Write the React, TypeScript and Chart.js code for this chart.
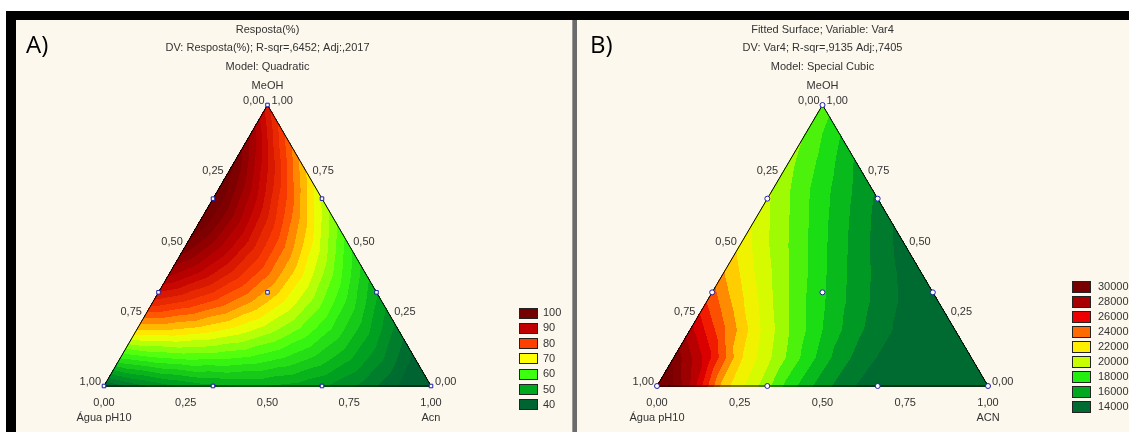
import React, { useEffect, useRef } from "react";
import { Chart, registerables } from "chart.js";

Chart.register(...registerables);

// ---------- data ----------
const tickValues = [0, 0.25, 0.5, 0.75, 1];
const tickLabels = ["0,00", "0,25", "0,50", "0,75", "1,00"];

// design points (fractions of MeOH and Acn; Água = remainder)
const designMeOH = [0, 1, 0, 0.3333, 0.6667, 0.6667, 0.3333, 0, 0, 0.3333];
const designAcn = [0, 0, 1, 0, 0, 0.3333, 0.6667, 0.3333, 0.6667, 0.3333];

const titleLinesA = ["Resposta(%)", "DV: Resposta(%); R-sqr=,6452; Adj:,2017", "Model: Quadratic"];
const titleLinesB = ["Fitted Surface; Variable: Var4", "DV: Var4; R-sqr=,9135 Adj:,7405", "Model: Special Cubic"];
const axisNamesA = ["MeOH", "Água pH10", "Acn"];
const axisNamesB = ["MeOH", "Água pH10", "ACN"];

// legend labels are the lower bounds of each colour class
const legendValuesA = [100, 90, 80, 70, 60, 50, 40];
const legendColorsA = ["#740000", "#c00000", "#ff4000", "#ffff00", "#3cff10", "#00a81e", "#006432"];
const legendValuesB = [30000, 28000, 26000, 24000, 22000, 20000, 18000, 16000, 14000];
const legendColorsB = ["#780000", "#a80000", "#ec0000", "#ff6a00", "#ffee00", "#c8ff00", "#22ee10", "#00a820", "#006b30"];

// response read on a ternary grid: row k -> MeOH = 1 - k/10, entry j -> Acn = j/10
const responseGridA = [
  [91.0],
  [99.6, 85.2],
  [105.1, 92.9, 79.5],
  [107.8, 97.6, 86.3, 74.0],
  [107.7, 99.4, 90.2, 79.9, 68.7],
  [104.5, 98.3, 91.1, 82.9, 73.7, 63.5],
  [98.4, 94.3, 89.1, 83.0, 75.8, 67.6, 58.5],
  [89.4, 87.3, 84.2, 80.1, 75.0, 68.9, 61.7, 53.6],
  [77.6, 77.5, 76.4, 74.3, 71.2, 67.2, 62.1, 56.0, 48.9],
  [62.7, 64.7, 65.7, 65.6, 64.6, 62.5, 59.5, 55.5, 50.4, 44.4],
  [45, 49, 52, 54, 55, 55, 54, 52, 49, 45, 40],
];
const responseGridB = [
  [19600],
  [19900, 18100],
  [20300, 18700, 16900],
  [20900, 19200, 17600, 16100],
  [21700, 20000, 18300, 16700, 15200],
  [22700, 20800, 19100, 17400, 15900, 14500],
  [24100, 21900, 20000, 18200, 16600, 15300, 14100],
  [26000, 23300, 21000, 19000, 17300, 15900, 14750, 13900],
  [28400, 25200, 22300, 20000, 18000, 16300, 15100, 14300, 13850],
  [30800, 27600, 23200, 20900, 18600, 16500, 15100, 14300, 13900, 13900],
  [33000, 29000, 23500, 21200, 18500, 16400, 15000, 14200, 13800, 13800, 14200],
];

// ---------- helpers ----------
function hexToRgb(h: string): number[] {
  const s = h.replace("#", "");
  return [parseInt(s.slice(0, 2), 16), parseInt(s.slice(2, 4), 16), parseInt(s.slice(4, 6), 16)];
}

function interpGrid(grid: number[][], a: number, c: number): number {
  const n = grid.length - 1;
  let C = Math.max(0, Math.min(n, c * n));
  let A = Math.max(0, Math.min(n - C, a * n));
  let iA = Math.floor(A);
  let iC = Math.floor(C);
  let fA = A - iA;
  let fC = C - iC;
  if (iA + iC >= n) {
    if (iA > 0) { iA -= 1; fA += 1; } else { iC -= 1; fC += 1; }
  }
  const node = (x: number, y: number) => {
    const row = grid[Math.min(n, x + y)];
    return row[Math.min(row.length - 1, y)];
  };
  const v10 = node(iA + 1, iC);
  const v01 = node(iA, iC + 1);
  if (fA + fC <= 1 || iA + iC + 2 > n) {
    const v00 = node(iA, iC);
    return v00 * (1 - fA - fC) + v10 * fA + v01 * fC;
  }
  const v11 = node(iA + 1, iC + 1);
  return v11 * (fA + fC - 1) + v10 * (1 - fC) + v01 * (1 - fA);
}

// colour of a class is placed at the middle of the class [label, label + classWidth]
function makeColorFn(values: number[], colors: string[], step: number, classWidth: number) {
  const pairs = values
    .map((v, i) => ({ v: v + classWidth / 2, c: hexToRgb(colors[i]) }))
    .sort((p, q) => p.v - q.v);
  const last = pairs.length - 1;
  return (val: number): number[] => {
    const q = (Math.floor(val / step) + 0.5) * step;
    if (!(q > pairs[0].v)) return pairs[0].c;
    if (q >= pairs[last].v) return pairs[last].c;
    let i = 0;
    while (i < last - 1 && q >= pairs[i + 1].v) i++;
    const t = (q - pairs[i].v) / (pairs[i + 1].v - pairs[i].v);
    const c0 = pairs[i].c, c1 = pairs[i + 1].c;
    return [0, 1, 2].map((k) => Math.round(c0[k] + (c1[k] - c0[k]) * t));
  };
}

const FONT = '"Liberation Sans", Arial, sans-serif';

type PanelCfg = {
  id: string;
  left: number; top: number; width: number; height: number;
  xMin: number; xMax: number; yMin: number; yMax: number;
  grid: number[][]; step: number; classWidth: number;
  legendValues: number[]; legendColors: string[];
  legendBoxX: number; legendBoxW: number; legendBoxH: number; legendTextX: number;
  legendY0: number; legendDy: number;
  titles: string[]; titleYs: number[]; axisNames: string[];
  letter: string; letterX: number; letterY: number;
  pointStyle: string;
};

function TernaryPanel({ cfg }: { cfg: PanelCfg }) {
  const ref = useRef<HTMLCanvasElement>(null);
  useEffect(() => {
    const canvas = ref.current as HTMLCanvasElement;
    const colorFn = makeColorFn(cfg.legendValues, cfg.legendColors, cfg.step, cfg.classWidth);

    const contour = {
      id: "contour" + cfg.id,
      beforeDatasetsDraw(chart: any) {
        const { ctx, chartArea, scales } = chart;
        const xs = scales.x, ys = scales.y;
        const W = Math.round(chartArea.right - chartArea.left);
        const H = Math.round(chartArea.bottom - chartArea.top);
        const off = document.createElement("canvas");
        off.width = W; off.height = H;
        const octx = off.getContext("2d") as CanvasRenderingContext2D;
        const img = octx.createImageData(W, H);
        const eps = 0.002;
        for (let py = 0; py < H; py++) {
          const m = ys.getValueForPixel(chartArea.top + py + 0.5);
          if (m < -eps || m > 1 + eps) continue;
          for (let px = 0; px < W; px++) {
            const xv = xs.getValueForPixel(chartArea.left + px + 0.5);
            const c = xv - m / 2;
            const a = 1 - m - c;
            if (c < -eps || a < -eps) continue;
            const v = interpGrid(cfg.grid, Math.max(0, a), Math.max(0, c));
            const col = colorFn(v);
            const o = (py * W + px) * 4;
            img.data[o] = col[0]; img.data[o + 1] = col[1]; img.data[o + 2] = col[2]; img.data[o + 3] = 255;
          }
        }
        octx.putImageData(img, 0, 0);
        ctx.drawImage(off, chartArea.left, chartArea.top);
      },
    };

    const labels = {
      id: "labels" + cfg.id,
      afterDatasetsDraw(chart: any) {
        const ctx = chart.ctx as CanvasRenderingContext2D;
        const xs = chart.scales.x, ys = chart.scales.y;
        const P = (m: number, c: number) => [xs.getPixelForValue(c + m / 2), ys.getPixelForValue(m)];
        ctx.save();
        ctx.fillStyle = "#333";
        ctx.font = "11px " + FONT;
        ctx.textBaseline = "middle";
        const [ax, ay] = P(1, 0);
        ctx.textAlign = "center";
        cfg.titles.forEach((t, i) => ctx.fillText(t, ax, cfg.titleYs[i]));
        ctx.fillText(cfg.axisNames[0], ax, ay - 19);
        // left edge (Água)
        ctx.textAlign = "right";
        tickValues.forEach((v, i) => {
          const [x, y] = P(1 - v, 0);
          ctx.fillText(tickLabels[i], x - 3, y - 4);
        });
        // right edge (MeOH)
        ctx.textAlign = "left";
        tickValues.forEach((v, i) => {
          const [x, y] = P(v, 1 - v);
          ctx.fillText(tickLabels[i], x + 4, y - 4);
        });
        // bottom edge (Acn)
        ctx.textAlign = "center";
        tickValues.forEach((v, i) => {
          const [x, y] = P(0, v);
          ctx.fillText(tickLabels[i], x, y + 17);
        });
        const [lx, ly] = P(0, 0);
        const [rx, ry] = P(0, 1);
        ctx.fillText(cfg.axisNames[1], lx, ly + 32);
        ctx.fillText(cfg.axisNames[2], rx, ry + 32);
        // legend
        ctx.textAlign = "left";
        cfg.legendValues.forEach((v, i) => {
          const cy = cfg.legendY0 + cfg.legendDy * i;
          const top = Math.round(cy - cfg.legendBoxH / 2);
          ctx.fillStyle = cfg.legendColors[i];
          ctx.fillRect(cfg.legendBoxX, top, cfg.legendBoxW, cfg.legendBoxH);
          ctx.strokeStyle = "#222";
          ctx.lineWidth = 1;
          ctx.strokeRect(cfg.legendBoxX + 0.5, top + 0.5, cfg.legendBoxW - 1, cfg.legendBoxH - 1);
          ctx.fillStyle = "#333";
          ctx.fillText(String(v), cfg.legendTextX, cy);
        });
        // panel letter
        ctx.fillStyle = "#000";
        ctx.font = '24px "Open Sans", "Liberation Sans", sans-serif';
        ctx.fillText(cfg.letter, cfg.letterX, cfg.letterY);
        ctx.restore();
      },
    };

    const pts = designMeOH.map((m, i) => ({ x: designAcn[i] + m / 2, y: m }));
    const outline = [{ x: 0, y: 0 }, { x: 1, y: 0 }, { x: 0.5, y: 1 }, { x: 0, y: 0 }];

    const chart = new Chart(canvas, {
      type: "scatter",
      data: {
        datasets: [
          {
            data: pts,
            pointStyle: cfg.pointStyle as any,
            pointRadius: 2.5,
            borderColor: "#1c1ca8",
            backgroundColor: "#ffffff",
            borderWidth: 1,
            order: 0,
            clip: false as any,
          },
          {
            data: outline,
            showLine: true,
            borderColor: "#000",
            borderWidth: 1,
            pointRadius: 0,
            order: 1,
            clip: false as any,
          },
        ],
      },
      options: {
        animation: false,
        responsive: false,
        maintainAspectRatio: false,
        devicePixelRatio: 1,
        layout: { padding: 0, autoPadding: false },
        events: [],
        scales: {
          x: { type: "linear", min: cfg.xMin, max: cfg.xMax, display: false },
          y: { type: "linear", min: cfg.yMin, max: cfg.yMax, display: false },
        },
        plugins: { legend: { display: false }, tooltip: { enabled: false }, title: { display: false } },
      },
      plugins: [contour, labels],
    });
    return () => chart.destroy();
  }, []);
  return (
    <canvas
      ref={ref}
      width={cfg.width}
      height={cfg.height}
      style={{ position: "absolute", left: cfg.left, top: cfg.top, width: cfg.width, height: cfg.height }}
    />
  );
}

const panelA: PanelCfg = {
  id: "A",
  left: 16, top: 20, width: 556, height: 412,
  xMin: -88 / 327, xMax: (556 - 88) / 327, yMin: -46 / 281, yMax: 366 / 281,
  grid: responseGridA, step: 2.5, classWidth: 10,
  legendValues: legendValuesA, legendColors: legendColorsA,
  legendBoxX: 503, legendBoxW: 19, legendBoxH: 11, legendTextX: 527, legendY0: 293, legendDy: 15.3,
  titles: titleLinesA, titleYs: [10, 28, 47], axisNames: axisNamesA,
  letter: "A)", letterX: 10, letterY: 26,
  pointStyle: "rect",
};

const panelB: PanelCfg = {
  id: "B",
  left: 577, top: 20, width: 552, height: 412,
  xMin: -80 / 331, xMax: (552 - 80) / 331, yMin: -46 / 281, yMax: 366 / 281,
  grid: responseGridB, step: 1000, classWidth: 2000,
  legendValues: legendValuesB, legendColors: legendColorsB,
  legendBoxX: 495, legendBoxW: 19, legendBoxH: 12, legendTextX: 521, legendY0: 267, legendDy: 15,
  titles: titleLinesB, titleYs: [10, 28, 47], axisNames: axisNamesB,
  letter: "B)", letterX: 13, letterY: 26,
  pointStyle: "circle",
};

export default function App() {
  useEffect(() => {
    document.body.style.margin = "0";
  }, []);
  return (
    <div style={{ position: "relative", width: 1129, height: 432, background: "#ffffff", overflow: "hidden" }}>
      <div style={{ position: "absolute", left: 16, top: 20, width: 1113, height: 412, background: "#fcf8ed" }} />
      <div style={{ position: "absolute", left: 6, top: 11, width: 1123, height: 9, background: "#000" }} />
      <div style={{ position: "absolute", left: 6, top: 11, width: 10, height: 421, background: "#000" }} />
      <div style={{ position: "absolute", left: 572, top: 20, width: 4, height: 412, background: "#6b6b6b", borderLeft: "1px solid #9a9a9a" }} />
      <TernaryPanel cfg={panelA} />
      <TernaryPanel cfg={panelB} />
    </div>
  );
}
